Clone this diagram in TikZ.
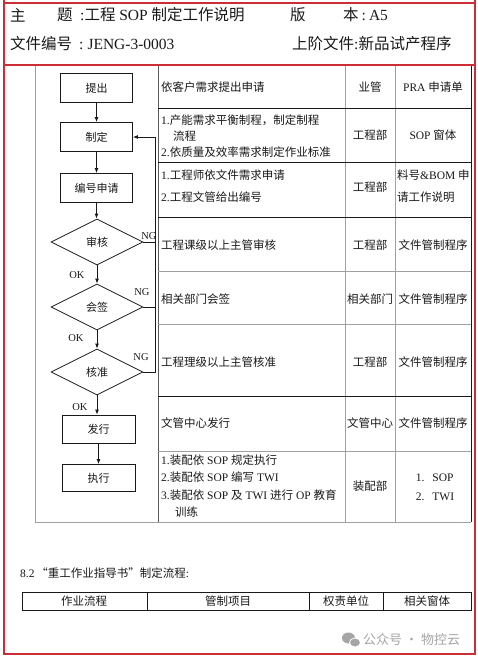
\documentclass[tikz,border=0pt]{standalone}
\usepackage{fontspec}
\setmainfont{Liberation Serif}
\newfontfamily\cjk{Noto Sans CJK SC}
\newcommand\zh[1]{{\cjk #1}}
\usetikzlibrary{shapes.geometric,arrows.meta}
\definecolor{framered}{RGB}{205,45,55}
\definecolor{ink}{RGB}{25,25,25}
\definecolor{lgray}{RGB}{160,160,160}
\definecolor{dgray}{RGB}{90,90,90}
\definecolor{wmgray}{RGB}{165,165,165}
\begin{document}
\begin{tikzpicture}[x=1pt,y=-1pt,
  every node/.style={inner sep=0pt, text=ink},
  hdr/.style={font=\fontsize{15.5}{18}\selectfont, anchor=west},
  cell/.style={font=\fontsize{11.5}{14}\selectfont},
  flowbox/.style={draw=ink, line width=0.8pt, minimum width=72pt, minimum height=29pt, font=\fontsize{11}{13}\selectfont},
  decision/.style={diamond, draw=ink, line width=0.8pt, minimum width=92pt, minimum height=46pt, font=\fontsize{11}{13}\selectfont},
  flow/.style={draw=ink, line width=0.9pt, -{Latex[length=5pt,width=4pt]}},
  ngline/.style={draw=ink, line width=0.8pt},
  lbl/.style={font=\fontsize{10.5}{12}\selectfont},
  blk/.style={draw=ink, line width=0.8pt},
  gry/.style={draw=lgray, line width=0.8pt},
]
\useasboundingbox (0,0) rectangle (478,659);
\fill[white] (0,0) rectangle (478,659);

% red frame
\draw[framered, line width=1.3pt] (4,0) -- (4,654) -- (475,654) -- (475,0);
\draw[framered, line width=1.3pt] (4,3) -- (475,3);
\draw[framered, line width=1.3pt] (4,65) -- (475,65);

% header
\node[hdr] (h1) at (10,15) {\zh{主}};
\node[hdr] (h2) at (57,15) {\zh{题}};
\node[hdr] (h2b) at (80,15) {:\zh{工程} SOP \zh{制定工作说明}};
\node[hdr] (h3) at (290,15) {\zh{版}};
\node[hdr] (h4) at (343,15) {\zh{本}\hspace{3pt}:\hspace{3pt}A5};
\node[hdr] (h5) at (10,44) {\zh{文件编号}\hspace{7pt}:\hspace{4pt}JENG-3-0003};
\node[hdr] (h6) at (292,44) {\zh{上阶文件}:\zh{新品试产程序}};

% table grid
\draw[gry] (35,66) -- (35,522) -- (471,522);
\draw[draw=dgray, line width=0.8pt] (158,66) -- (158,522);
\draw[gry] (345,66) -- (345,522);
\draw[gry] (395,66) -- (395,522);
\draw[blk] (471,66) -- (471,522);
\foreach \yy in {108,162,217,396} \draw[blk] (158,\yy) -- (471,\yy);
\foreach \yy in {271,324,451} \draw[gry] (158,\yy) -- (471,\yy);

% flow chart
\node[flowbox] (tc) at (96.5,88) {\zh{提出}};
\node[flowbox] (zd) at (96.5,137) {\zh{制定}};
\node[flowbox] (bh) at (96.5,188) {\zh{编号申请}};
\node[decision] (sh) at (97,242) {\zh{审核}};
\node[decision] (hq) at (97,307) {\zh{会签}};
\node[decision] (hz) at (97,372) {\zh{核准}};
\node[flowbox, minimum width=73pt, minimum height=28pt] (fx) at (98.5,429) {\zh{发行}};
\node[flowbox, minimum width=73pt, minimum height=27pt] (zx) at (98.5,478) {\zh{执行}};

\draw[flow] (tc.south) -- (tc.south |- zd.north);
\draw[flow] (zd.south) -- (zd.south |- bh.north);
\draw[flow] (bh.south) -- (bh.south |- sh.north);
\draw[flow] (sh.south) -- (sh.south |- hq.north);
\draw[flow] (hq.south) -- (hq.south |- hz.north);
\draw[flow] (hz.south) -- (hz.south |- fx.north);
\draw[flow] (fx.south) -- (fx.south |- zx.north);

\coordinate (ngx) at (155,0);
\draw[ngline] (sh.east) -- (sh.east -| ngx);
\draw[ngline] (hq.east) -- (hq.east -| ngx);
\draw[flow] (hz.east) -- (hz.east -| ngx) |- (zd.east);

\node[lbl] (ng1) at (149,236) {NG};
\node[lbl] (ng2) at (142,292) {NG};
\node[lbl] (ng3) at (141,357) {NG};
\node[lbl] (ok1) at (77,275) {OK};
\node[lbl] (ok2) at (76,338) {OK};
\node[lbl] (ok3) at (80,407) {OK};

% table texts
\node[cell, anchor=west] (r1a) at (161,87) {\zh{依客户需求提出申请}};
\node[cell] (r1b) at (370,87) {\zh{业管}};
\node[cell] (r1c) at (433,87) {PRA \zh{申请单}};

\node[cell, anchor=west, align=left, font=\fontsize{11.5}{16}\selectfont] (r2a) at (161,136)
  {1.\zh{产能需求平衡制程，制定制程}\\\hspace*{12pt}\zh{流程}\\2.\zh{依质量及效率需求制定作业标准}};
\node[cell] (r2b) at (370,135) {\zh{工程部}};
\node[cell] (r2c) at (433,135) {SOP \zh{窗体}};

\node[cell, anchor=west, align=left, font=\fontsize{11.5}{22}\selectfont] (r3a) at (161,186)
  {1.\zh{工程师依文件需求申请}\\2.\zh{工程文管给出编号}};
\node[cell] (r3b) at (370,187) {\zh{工程部}};
\node[cell, anchor=west, align=left, font=\fontsize{11.5}{22}\selectfont] (r3c) at (397,186)
  {\zh{料号}\&BOM \zh{申}\\\zh{请工作说明}};

\node[cell, anchor=west] (r4a) at (161,245) {\zh{工程课级以上主管审核}};
\node[cell] (r4b) at (370,245) {\zh{工程部}};
\node[cell] (r4c) at (433,245) {\zh{文件管制程序}};

\node[cell, anchor=west] (r5a) at (161,299) {\zh{相关部门会签}};
\node[cell] (r5b) at (370,299) {\zh{相关部门}};
\node[cell] (r5c) at (433,299) {\zh{文件管制程序}};

\node[cell, anchor=west] (r6a) at (161,362) {\zh{工程理级以上主管核准}};
\node[cell] (r6b) at (370,362) {\zh{工程部}};
\node[cell] (r6c) at (433,362) {\zh{文件管制程序}};

\node[cell, anchor=west] (r7a) at (161,423) {\zh{文管中心发行}};
\node[cell] (r7b) at (370,423) {\zh{文管中心}};
\node[cell] (r7c) at (433,423) {\zh{文件管制程序}};

\node[cell, anchor=west, align=left, font=\fontsize{11.5}{17.5}\selectfont] (r8a) at (161,486)
  {1.\zh{装配依} SOP \zh{规定执行}\\2.\zh{装配依} SOP \zh{编写} TWI\\3.\zh{装配依} SOP \zh{及} TWI \zh{进行} OP \zh{教育}\\\hspace*{14pt}\zh{训练}};
\node[cell] (r8b) at (370,486) {\zh{装配部}};
\node[cell, align=left, font=\fontsize{11.5}{18.5}\selectfont] (r8c) at (435,487.5)
  {1.\hspace{8pt}SOP\\2.\hspace{8pt}TWI};

% section 8.2
\node[cell, anchor=west] (sec) at (20,573) {8.2\,\zh{“重工作业指导书”制定流程}:};
\draw[blk] (22,592) rectangle (471,610);
\draw[blk] (147,592) -- (147,610);
\draw[blk] (309,592) -- (309,610);
\draw[blk] (383,592) -- (383,610);
\node[cell] (b1) at (84,601) {\zh{作业流程}};
\node[cell] (b2) at (228,601) {\zh{管制项目}};
\node[cell] (b3) at (346,601) {\zh{权责单位}};
\node[cell] (b4) at (427,601) {\zh{相关窗体}};

% watermark
\fill[wmgray] (348.5,638) ellipse [x radius=6.5pt, y radius=5.5pt];
\filldraw[fill=wmgray, draw=white, line width=0.8pt] (355,642.5) ellipse [x radius=5.5pt, y radius=4.5pt];
\node[anchor=west, text=wmgray, font=\cjk\fontsize{13}{15}\selectfont] (wm) at (363,640) {公众号 · 物控云};
\end{tikzpicture}
\end{document}
